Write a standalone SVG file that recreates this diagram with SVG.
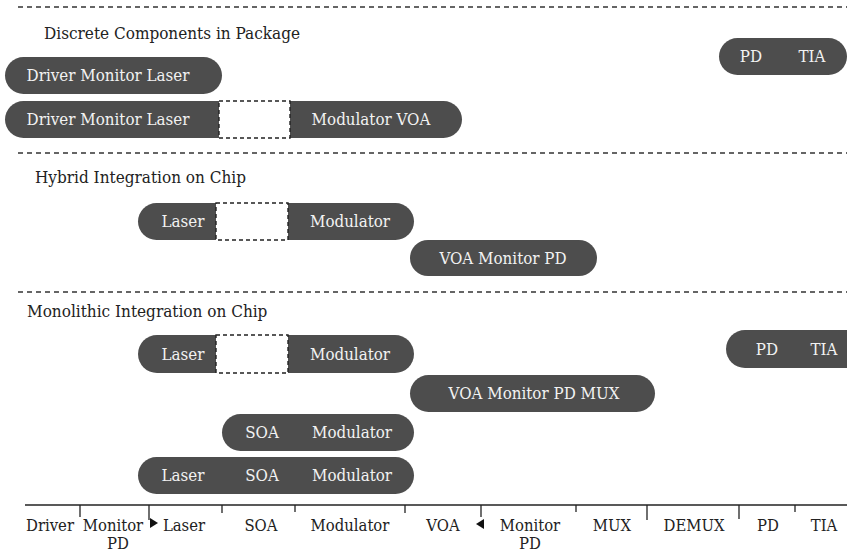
<svg xmlns="http://www.w3.org/2000/svg" width="847" height="556" viewBox="0 0 847 556">
<style>
.sep{stroke:#333;stroke-width:1.3;stroke-dasharray:5,4;fill:none}
.title{font-family:"DejaVu Serif Condensed","DejaVu Serif","Liberation Serif",serif;font-stretch:condensed;font-size:17px;fill:#222}
.pill{fill:#4d4d4d}
.gap{fill:#fff;stroke:#222;stroke-width:1.4;stroke-dasharray:4,3}
.pt{font-family:"DejaVu Serif Condensed","DejaVu Serif","Liberation Serif",serif;font-stretch:condensed;font-size:16.8px;fill:#f2f2f2;text-anchor:middle}
.ax{stroke:#222;stroke-width:1.3;fill:none}
.lab{font-family:"DejaVu Serif Condensed","DejaVu Serif","Liberation Serif",serif;font-stretch:condensed;font-size:16.5px;fill:#222;text-anchor:middle}
</style>
<rect width="847" height="556" fill="#fff"/>
<g id="separators">
<line class="sep" x1="18" y1="7" x2="847" y2="7"/>
<line class="sep" x1="18" y1="153" x2="847" y2="153"/>
<line class="sep" x1="18" y1="292" x2="847" y2="292"/>
</g>
<g id="titles">
<text class="title" x="44" y="39">Discrete Components in Package</text>
<text class="title" x="35" y="183">Hybrid Integration on Chip</text>
<text class="title" x="27" y="317">Monolithic Integration on Chip</text>
</g>
<g id="discrete1">
<rect class="pill" x="5" y="57" width="217" height="37" rx="18.5"/>
<text class="pt" x="108" y="81">Driver Monitor Laser</text>
</g>
<g id="discrete2">
<rect class="pill" x="5" y="101" width="457" height="37" rx="18.5"/>
<rect class="gap" x="219" y="101" width="71" height="37"/>
<text class="pt" x="108" y="125">Driver Monitor Laser</text>
<text class="pt" x="371" y="125">Modulator VOA</text>
</g>
<g id="discrete3">
<rect class="pill" x="719" y="38" width="128" height="37" rx="18.5"/>
<text class="pt" x="751" y="62">PD</text>
<text class="pt" x="812" y="62">TIA</text>
</g>
<g id="hybrid1">
<rect class="pill" x="138" y="203" width="276" height="37" rx="18.5"/>
<rect class="gap" x="216" y="203" width="72" height="37"/>
<text class="pt" x="183" y="227">Laser</text>
<text class="pt" x="350" y="227">Modulator</text>
</g>
<g id="hybrid2">
<rect class="pill" x="410" y="240" width="187" height="36" rx="18"/>
<text class="pt" x="503" y="264">VOA Monitor PD</text>
</g>
<g id="mono1">
<rect class="pill" x="138" y="335" width="276" height="38" rx="19"/>
<rect class="gap" x="216" y="335" width="72" height="38"/>
<text class="pt" x="183" y="360">Laser</text>
<text class="pt" x="350" y="360">Modulator</text>
</g>
<g id="mono2">
<rect class="pill" x="726" y="330" width="140" height="38" rx="19"/>
<text class="pt" x="767" y="355">PD</text>
<text class="pt" x="824" y="355">TIA</text>
</g>
<g id="mono3">
<rect class="pill" x="410" y="375" width="245" height="37" rx="18.5"/>
<text class="pt" x="534" y="399">VOA Monitor PD MUX</text>
</g>
<g id="mono4">
<rect class="pill" x="222" y="414" width="192" height="37" rx="18.5"/>
<text class="pt" x="262" y="438">SOA</text>
<text class="pt" x="352" y="438">Modulator</text>
</g>
<g id="mono5">
<rect class="pill" x="138" y="457" width="276" height="37" rx="18.5"/>
<text class="pt" x="183" y="481">Laser</text>
<text class="pt" x="262" y="481">SOA</text>
<text class="pt" x="352" y="481">Modulator</text>
</g>
<g id="axis">
<line class="ax" x1="25" y1="505" x2="847" y2="505"/>
<line class="ax" x1="80" y1="505" x2="80" y2="517"/>
<line class="ax" x1="149" y1="505" x2="149" y2="520"/>
<line class="ax" x1="222" y1="505" x2="222" y2="513"/>
<line class="ax" x1="295" y1="505" x2="295" y2="512"/>
<line class="ax" x1="405" y1="505" x2="405" y2="513"/>
<line class="ax" x1="481" y1="505" x2="481" y2="517"/>
<line class="ax" x1="576" y1="505" x2="576" y2="512"/>
<line class="ax" x1="647" y1="505" x2="647" y2="520"/>
<line class="ax" x1="739" y1="505" x2="739" y2="519"/>
<line class="ax" x1="795" y1="505" x2="795" y2="512"/>
<polygon points="150,518 158,523 150,528" fill="#111"/>
<polygon points="484,519 476,524 484,529" fill="#111"/>
<text class="lab" x="50" y="531">Driver</text>
<text class="lab" x="113" y="531">Monitor</text>
<text class="lab" x="118" y="549">PD</text>
<text class="lab" x="184" y="531">Laser</text>
<text class="lab" x="261" y="531">SOA</text>
<text class="lab" x="350" y="531">Modulator</text>
<text class="lab" x="443" y="531">VOA</text>
<text class="lab" x="530" y="531">Monitor</text>
<text class="lab" x="530" y="549">PD</text>
<text class="lab" x="612" y="531">MUX</text>
<text class="lab" x="694" y="531">DEMUX</text>
<text class="lab" x="768" y="531">PD</text>
<text class="lab" x="824" y="531">TIA</text>
</g>
</svg>
